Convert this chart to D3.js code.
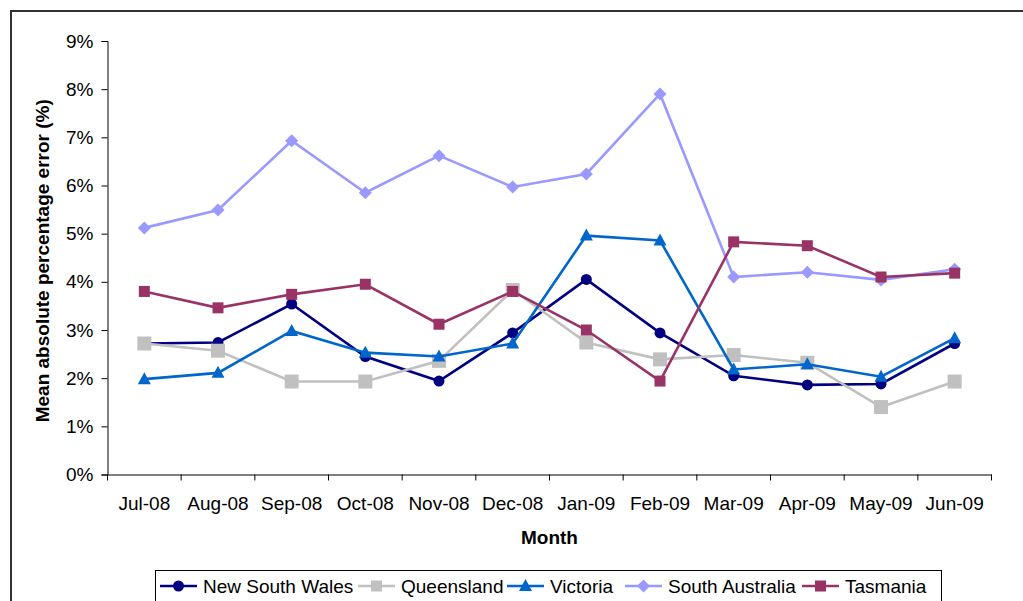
<!DOCTYPE html>
<html>
<head>
<meta charset="utf-8">
<script src="https://cdn.jsdelivr.net/npm/d3@7"></script>
<style>
  html, body { margin: 0; padding: 0; background: #fff; }
  svg { display: block; font-family: "Liberation Sans", Arial, sans-serif; }
</style>
</head>
<body>
<svg id="chart" width="1023" height="601"></svg>
<script>
// Monthly mean absolute percentage error by state (values in %)
const months = ["Jul-08", "Aug-08", "Sep-08", "Oct-08", "Nov-08", "Dec-08",
                "Jan-09", "Feb-09", "Mar-09", "Apr-09", "May-09", "Jun-09"];
const newSouthWales  = [2.72, 2.74, 3.54, 2.45, 1.94, 2.94, 4.05, 2.94, 2.05, 1.86, 1.88, 2.72];
const queensland     = [2.72, 2.57, 1.93, 1.93, 2.36, 3.83, 2.74, 2.39, 2.48, 2.32, 1.40, 1.93];
const victoria       = [1.98, 2.11, 2.98, 2.53, 2.45, 2.72, 4.96, 4.86, 2.18, 2.29, 2.03, 2.83];
const southAustralia = [5.12, 5.49, 6.93, 5.85, 6.62, 5.97, 6.24, 7.90, 4.10, 4.20, 4.04, 4.26];
const tasmania       = [3.80, 3.46, 3.74, 3.95, 3.12, 3.80, 3.00, 1.94, 4.83, 4.75, 4.10, 4.18];
const yTicks = [0, 1, 2, 3, 4, 5, 6, 7, 8, 9];

const series = [
  { name: "New South Wales", values: newSouthWales,  color: "#000080", marker: "circle" },
  { name: "Queensland",      values: queensland,     color: "#C0C0C0", marker: "bigsquare" },
  { name: "Victoria",        values: victoria,       color: "#0066CC", marker: "triangle" },
  { name: "South Australia", values: southAustralia, color: "#9999FF", marker: "diamond" },
  { name: "Tasmania",        values: tasmania,       color: "#993366", marker: "square" }
];

const svg = d3.select("#chart");
const plot = { left: 107.5, right: 991.5, top: 41, bottom: 474.5 };
const FS = 19;

// Outer chart frame
svg.append("rect")
  .attr("x", 11).attr("y", 11).attr("width", 1040).attr("height", 620)
  .attr("fill", "none").attr("stroke", "#333").attr("stroke-width", 2);

const x = d3.scaleBand().domain(months).range([plot.left, plot.right]).padding(0);
const xc = m => x(m) + x.bandwidth() / 2;
const y = d3.scaleLinear().domain([0, 9]).range([plot.bottom, plot.top]);

// Y axis
const yAxis = svg.append("g")
  .attr("transform", `translate(${plot.left},0)`)
  .call(d3.axisLeft(y).tickValues(yTicks).tickFormat(d => d + "%").tickSize(6).tickPadding(8));
yAxis.select(".domain").attr("stroke", "#000");
yAxis.selectAll(".tick line").attr("stroke", "#000");
yAxis.selectAll("text").attr("font-size", FS).attr("fill", "#000")
  .attr("font-family", "Liberation Sans, Arial, sans-serif");

// X axis: labels centred in each band, tick marks on band boundaries
const xAxis = svg.append("g")
  .attr("transform", `translate(0,${plot.bottom})`)
  .call(d3.axisBottom(x).tickSize(0).tickPadding(22));
xAxis.select(".domain").attr("stroke", "#000");
xAxis.selectAll("text").attr("font-size", FS).attr("fill", "#000")
  .attr("font-family", "Liberation Sans, Arial, sans-serif");
const bounds = months.map(m => x(m)).concat([x(months[months.length - 1]) + x.bandwidth()]);
svg.append("g").selectAll("line").data(bounds).join("line")
  .attr("x1", d => d).attr("x2", d => d)
  .attr("y1", plot.bottom).attr("y2", plot.bottom + 6)
  .attr("stroke", "#000");

// Axis titles
svg.append("text")
  .attr("x", (plot.left + plot.right) / 2 + 0).attr("y", 544)
  .attr("text-anchor", "middle").attr("font-size", FS).attr("font-weight", "bold")
  .text("Month");
svg.append("text")
  .attr("transform", `translate(49,${(plot.top + plot.bottom) / 2 + 3}) rotate(-90)`)
  .attr("text-anchor", "middle").attr("font-size", FS).attr("font-weight", "bold")
  .text("Mean absolute percentage error (%)");

// Marker drawing
function drawMarker(g, type, color) {
  if (type === "circle") {
    g.append("circle").attr("r", 5.5).attr("fill", color);
  } else if (type === "bigsquare") {
    g.append("rect").attr("x", -7).attr("y", -7).attr("width", 14).attr("height", 14).attr("fill", color);
  } else if (type === "square") {
    g.append("rect").attr("x", -5.5).attr("y", -5.5).attr("width", 11).attr("height", 11).attr("fill", color);
  } else if (type === "triangle") {
    g.append("path").attr("d", "M0,-7L6.5,5L-6.5,5Z").attr("fill", color);
  } else if (type === "diamond") {
    g.append("path").attr("d", "M0,-6.5L6.5,0L0,6.5L-6.5,0Z").attr("fill", color);
  }
}

const line = d3.line().x((d, i) => xc(months[i])).y(d => y(d));

series.forEach(s => {
  const g = svg.append("g");
  g.append("path").datum(s.values)
    .attr("d", line).attr("fill", "none")
    .attr("stroke", s.color).attr("stroke-width", 2.6).attr("stroke-linejoin", "miter");
  s.values.forEach((v, i) => {
    const mg = g.append("g").attr("transform", `translate(${xc(months[i])},${y(v)})`);
    drawMarker(mg, s.marker, s.color);
  });
});

// Legend
const legend = svg.append("g");
legend.append("rect")
  .attr("x", 155.5).attr("y", 570.5).attr("width", 786).attr("height", 60)
  .attr("fill", "#fff").attr("stroke", "#000").attr("stroke-width", 1);
const legendX = [160, 358, 507, 625, 802];
series.forEach((s, i) => {
  const g = legend.append("g").attr("transform", `translate(${legendX[i]},586)`);
  g.append("line").attr("x1", 0).attr("x2", 37).attr("y1", 0).attr("y2", 0)
    .attr("stroke", s.color).attr("stroke-width", 2.6);
  const mg = g.append("g").attr("transform", "translate(18.5,0)");
  drawMarker(mg, s.marker === "bigsquare" ? "square" : s.marker, s.color);
  g.append("text").attr("x", 43).attr("y", 7).attr("font-size", FS).attr("fill", "#000")
    .text(s.name);
});
</script>
</body>
</html>
